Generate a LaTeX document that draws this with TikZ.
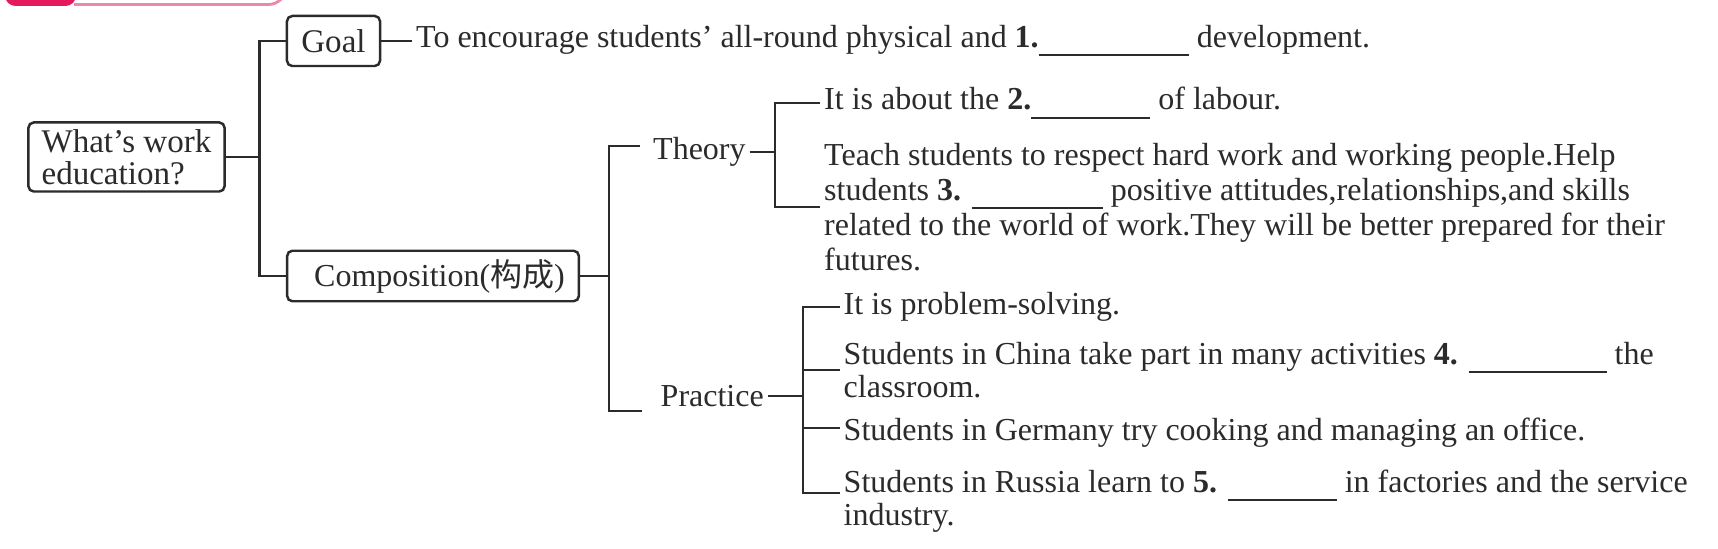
\documentclass[tikz,border=0pt]{standalone}
\usepackage{fontspec}
\setmainfont{Liberation Serif}
\newfontfamily\cjkfont{Noto Sans CJK SC}
\definecolor{inkcol}{HTML}{2B2B2B}
\definecolor{hdred}{HTML}{E5195E}
\definecolor{hdpink}{HTML}{EE86AE}
\usetikzlibrary{calc,positioning}
\newcommand{\gap}[1]{\rule[-2.5pt]{#1}{0.6pt}}
\newcommand{\txtsize}{\fontsize{9.1}{9.3}\selectfont}

\begin{document}
\begin{tikzpicture}[x=0.01cm,y=-0.01cm,
        box/.style={rectangle,rounded corners=1.5pt,draw=inkcol,line width=0.7pt,
                    inner sep=0pt,align=left,text=inkcol,
                    font=\fontsize{9.4}{9}\selectfont},
        item/.style={anchor=west,inner xsep=1pt,inner ysep=0pt,
                     align=left,text=inkcol,font=\txtsize},
        link/.style={draw=inkcol,line width=0.6pt}]
  \useasboundingbox (0,0) rectangle (1718,549);
  \clip (0,0) rectangle (1718,549);
  \fill[white] (0,0) rectangle (1718,549);

  \fill[hdred,rounded corners=3pt] (5,-20) rectangle (76,6);
  \draw[hdpink,line width=0.8pt,rounded corners=5pt] (74,4.5) -| (286,-20);

  \node[box,minimum width=1.96cm,minimum height=0.69cm] (root) at (126.5,157)
    {What’s work\\education?};
  \node[box,minimum width=0.93cm,minimum height=0.5cm] (goal) at (333.5,41) {Goal};
  \node[box,minimum width=2.915cm,minimum height=0.505cm,
        font=\fontsize{9.1}{9}\selectfont] (comp) at (433,276)
    {\hspace{0.13cm}Composition({\cjkfont 构成})};

  \node[item] (goaltxt) at (412,41)
    {To encourage students’ all-round physical and \textbf{1.}\gap{1.5cm} development.};

  \node[item] (theory) at (649,152) {Theory};
  \node[item] (practice) at (656.5,396) {Practice};

  \node[item] (th1) at (820,103) {It is about the \textbf{2.}\gap{1.19cm} of labour.};
  \node[item,font=\fontsize{9.1}{10}\selectfont] (th2) at (820,207)
    {Teach students to respect hard work and working people.Help\\
     students \textbf{3.} \gap{1.31cm} positive attitudes,relationships,and skills\\
     related to the world of work.They will be better prepared for their\\
     futures.};

  \node[item] (p1) at (839.5,307) {It is problem-solving.};
  \node[item] (p2) at (839.5,370)
    {Students in China take part in many activities \textbf{4.} \gap{1.38cm} the\\
     classroom.};
  \node[item] (p3) at (839.5,433) {Students in Germany try cooking and managing an office.};
  \node[item] (p4) at (839.5,501)
    {Students in Russia learn to \textbf{5.} \gap{1.09cm} in factories and the service\\
     industry.};

  \coordinate (t1) at (259.5,157);
  \draw[link] (root.east) -- (t1);
  \draw[link] (goal.west) -| (t1) |- (comp.west);
  \draw[link] (goal.east) -- (goaltxt.west);

  \coordinate (t2) at (609,272);
  \coordinate (thtick) at ($(theory.west)+(-9,-6)$);
  \coordinate (prtick) at ($(practice.west)+(-15,15)$);
  \draw[link] (comp.east) -- (comp.east -| t2);
  \draw[link] (thtick) -| (t2) |- (prtick);

  \coordinate (t3) at (775,155);
  \draw[link] (theory.east) -- (theory.east -| t3);
  \draw[link] (th1.west) -| (t3) |- (th2.west);

  \coordinate (t4) at (803,398);
  \draw[link] (practice.east) -- (practice.east -| t4);
  \draw[link] (p1.west) -| (t4) |- ([yshift=0.08cm]p4.west);
  \draw[link] (p2.west) -- (p2.west -| t4);
  \draw[link] ([yshift=0.05cm]p3.west) -- ([yshift=0.05cm]p3.west -| t4);
\end{tikzpicture}
\end{document}
